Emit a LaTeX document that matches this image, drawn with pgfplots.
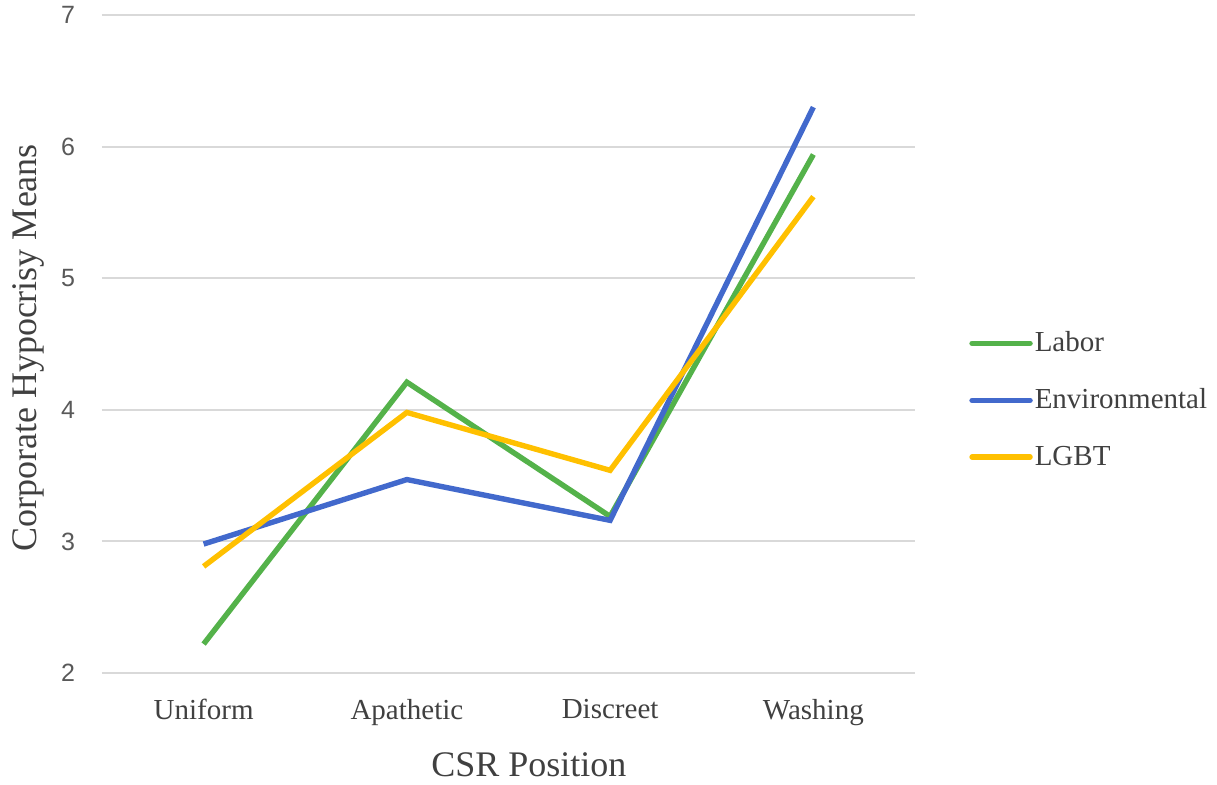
\documentclass[border=0pt]{standalone}
\usepackage{fontspec}
\setmainfont{Liberation Serif}
\newfontfamily\ticksans{Liberation Sans}
\usepackage{pgfplots}
\pgfplotsset{compat=1.18}

\definecolor{laborgreen}{RGB}{84,178,74}
\definecolor{envblue}{RGB}{66,105,204}
\definecolor{lgbtyellow}{RGB}{255,192,0}
\definecolor{gridgray}{RGB}{217,217,217}
\definecolor{labelgray}{RGB}{64,64,64}
\definecolor{tickgray}{RGB}{89,89,89}

\begin{document}
\begin{tikzpicture}
\begin{axis}[
  scale only axis,
  width=406.5pt, height=329pt,
  xmin=-0.5, xmax=3.5, ymin=2, ymax=7,
  xtick={0,1,2,3},
  xticklabels={Uniform,Apathetic,Discreet,Washing},
  ytick={2,3,4,5,6,7},
  axis line style={draw=none},
  tick style={draw=none},
  major tick length=0pt,
  ymajorgrids,
  grid style={gridgray, line width=1pt},
  /pgf/number format/assume math mode=true,
  xticklabel style={font=\fontsize{14.5}{17}\selectfont, text=labelgray, yshift=-9.5pt},
  yticklabel style={font=\ticksans\fontsize{12.5}{14}\selectfont, text=tickgray, xshift=-10pt},
  xlabel={CSR Position},
  ylabel={Corporate Hypocrisy Means},
  label style={font=\fontsize{18}{21}\selectfont, text=labelgray},
  xlabel style={at={(axis description cs:0.525,-0.1398)}, anchor=center},
  ylabel style={at={(axis description cs:-0.091,0.494)}, anchor=center},
  legend style={at={(axis description cs:1.059,0.415)}, anchor=west,
    draw=none, fill=none, row sep=13pt,
    font=\fontsize{14.5}{17}\selectfont, text=labelgray,
    nodes={inner xsep=1pt}},
  legend cell align=left,
  legend image code/.code={\draw[#1, line cap=round] (0pt,0pt) -- (29pt,0pt);},
  every axis plot/.append style={line width=2.7pt, line join=miter},
]
\addplot[laborgreen] coordinates {(0,2.22) (1,4.21) (2,3.19) (3,5.94)};
\addlegendentry{Labor}
\addplot[envblue] coordinates {(0,2.98) (1,3.47) (2,3.16) (3,6.30)};
\addlegendentry{Environmental}
\addplot[lgbtyellow] coordinates {(0,2.81) (1,3.98) (2,3.54) (3,5.62)};
\addlegendentry{LGBT}
\coordinate (axsw) at (rel axis cs:0,0);
\end{axis}
\pgfresetboundingbox
\path[use as bounding box] ([shift={(-51pt,-55.5pt)}]axsw) rectangle ([shift={(557.5pt,336.5pt)}]axsw);
\end{tikzpicture}
\end{document}
